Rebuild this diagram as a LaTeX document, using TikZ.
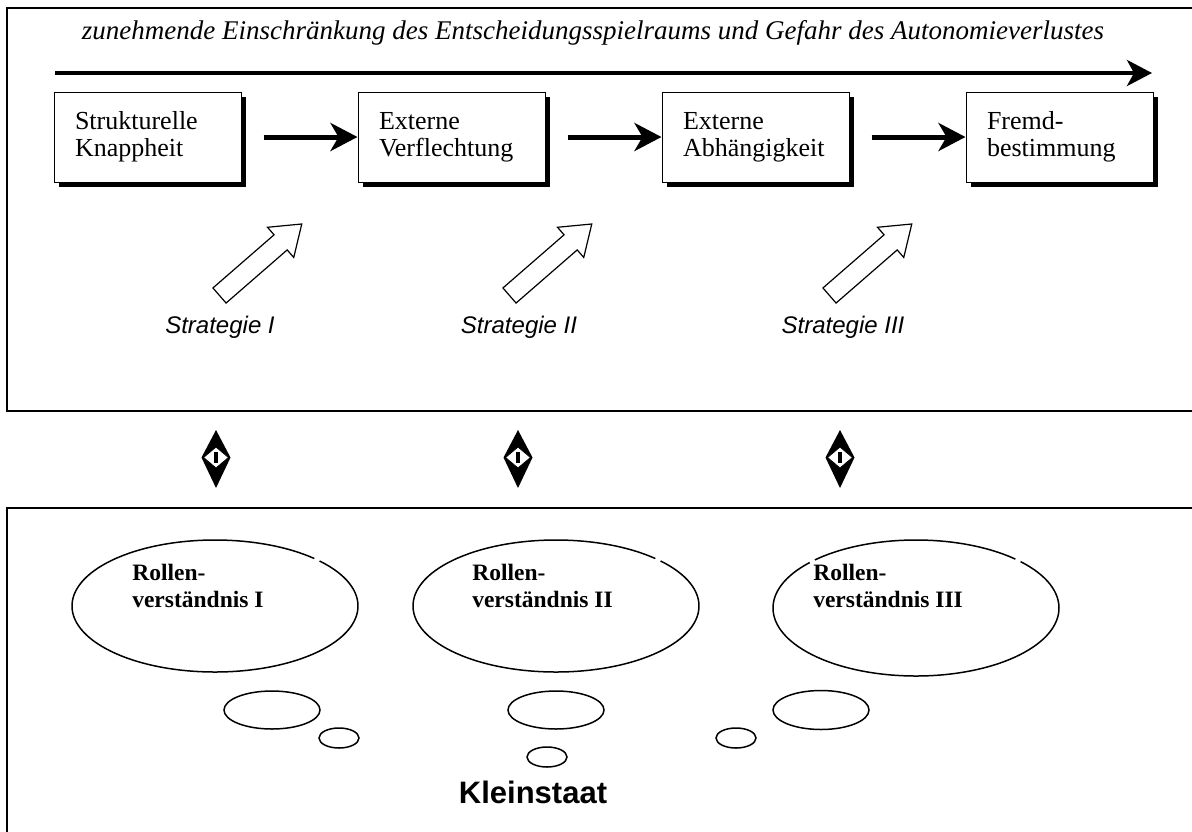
\documentclass[tikz,border=0pt]{standalone}
\usepackage{fontspec}
\setmainfont{Liberation Serif}
\newfontfamily\arialfont{Liberation Sans}
\usetikzlibrary{arrows.meta,positioning,shadows}

\begin{document}
\begin{tikzpicture}[x=1pt,y=-1pt,>=Stealth,node distance=116pt,
                    semithick]
  \tikzstyle{stufe}=[draw,line width=1pt,fill=white,minimum height=90pt,
    text width=145pt,inner xsep=21pt,inner ysep=0pt,align=left,
    font=\fontsize{26}{27}\selectfont,
    drop shadow={shadow xshift=5pt,shadow yshift=-5pt,fill=black,opacity=1}]
  \tikzstyle{folge}=[->,line width=5pt,>={Stealth[length=27pt,width=28pt,inset=8pt]}]
  \tikzstyle{strategie}=[font=\arialfont\itshape\fontsize{24}{28}\selectfont,anchor=base]
  \tikzstyle{rolle}=[font=\bfseries\fontsize{23.5}{27}\selectfont,align=left,
    anchor=north west,inner sep=0pt]
  \tikzstyle{wolke}=[line width=1.5pt]
  \tikzstyle{rahmen}=[line width=1.5pt]

  \useasboundingbox (0,0) rectangle (1192,831);
  \clip (0,0) rectangle (1192,831);

  % Rahmen
  \draw[rahmen] (7,8) rectangle (1220,411);
  \draw[rahmen] (7,508) rectangle (1220,860);

  % Kopfzeile
  \node[font=\itshape\fontsize{27}{31}\selectfont,anchor=base] (KOPF) at (593,39)
    {zunehmende Einschränkung des Entscheidungsspielraums und Gefahr des Autonomieverlustes};
  \coordinate (KS) at (55,73);
  \coordinate (KE) at (1152,73);
  \draw[->,line width=4pt,>={Stealth[length=25pt,width=26pt,inset=7pt]}] (KS) -- (KE);

  % Stufen
  \node[stufe] (SK) at (147.5,137) {Strukturelle\\Knappheit};
  \node[stufe] (EV) [right=of SK]  {Externe\\Verflechtung};
  \node[stufe] (EA) [right=of EV]  {Externe\\Abhängigkeit};
  \node[stufe] (FB) [right=of EA]  {Fremd-\\bestimmung};

  \draw[folge] ([xshift=22pt]SK.east) -- (EV.west);
  \draw[folge] ([xshift=22pt]EV.east) -- (EA.west);
  \draw[folge] ([xshift=22pt]EA.east) -- (FB.west);

  % Strategien
  \foreach \tx in {219.5,509.5,829.5}
    \draw[fill=white,line width=1.2pt,shift={(\tx,295.5)},rotate=41]
      (0,-10) -- (81,-10) -- (81,-20) -- (109,0) -- (81,20) -- (81,10) -- (0,10) -- cycle;

  \node[strategie] (ST1) at (220,333) {Strategie I};
  \node[strategie] (ST2) at (519,333) {Strategie II};
  \node[strategie] (ST3) at (843,333) {Strategie III};

  % Doppelpfeile
  \foreach \x in {216,518,840} {
    \fill (\x,430) -- (\x+14.5,457.5) -- (\x,488) -- (\x-14.5,457.5) -- cycle;
    \draw[fill=white,line width=0.8pt] (\x,447) -- (\x+12.5,457.5) -- (\x,468) -- (\x-12.5,457.5) -- cycle;
    \fill (\x-2,452) rectangle (\x+2,463);
  }

  % Rollenverstaendnis
  \draw[wolke] (215,606) ++(-43:143 and 66) arc[start angle=-43,end angle=314,x radius=143,y radius=66];
  \draw[wolke] (556,606) ++(-43:143 and 66) arc[start angle=-43,end angle=314,x radius=143,y radius=66];
  \draw[wolke] (916,608) ++(-43:143 and 68) arc[start angle=-43,end angle=222,x radius=143,y radius=68];
  \draw[wolke] (916,608) ++(225:143 and 68) arc[start angle=225,end angle=314,x radius=143,y radius=68];

  \node[rolle] (R1) at (132,564) {Rollen-\\verständnis I};
  \node[rolle] (R2) at (472,564) {Rollen-\\verständnis II};
  \node[rolle] (R3) at (813,564) {Rollen-\\verständnis III};

  \draw[wolke] (272,710) ellipse[x radius=48,y radius=19];
  \draw[wolke] (339,738) ellipse[x radius=20,y radius=10];
  \draw[wolke] (556,710) ellipse[x radius=48,y radius=19];
  \draw[wolke] (547,757) ellipse[x radius=20,y radius=10];
  \draw[wolke] (821,710) ellipse[x radius=48,y radius=19.5];
  \draw[wolke] (736,738) ellipse[x radius=20,y radius=10];

  \node[font=\arialfont\bfseries\fontsize{31}{36}\selectfont,anchor=base] (KLEIN) at (533,803) {Kleinstaat};
\end{tikzpicture}
\end{document}
